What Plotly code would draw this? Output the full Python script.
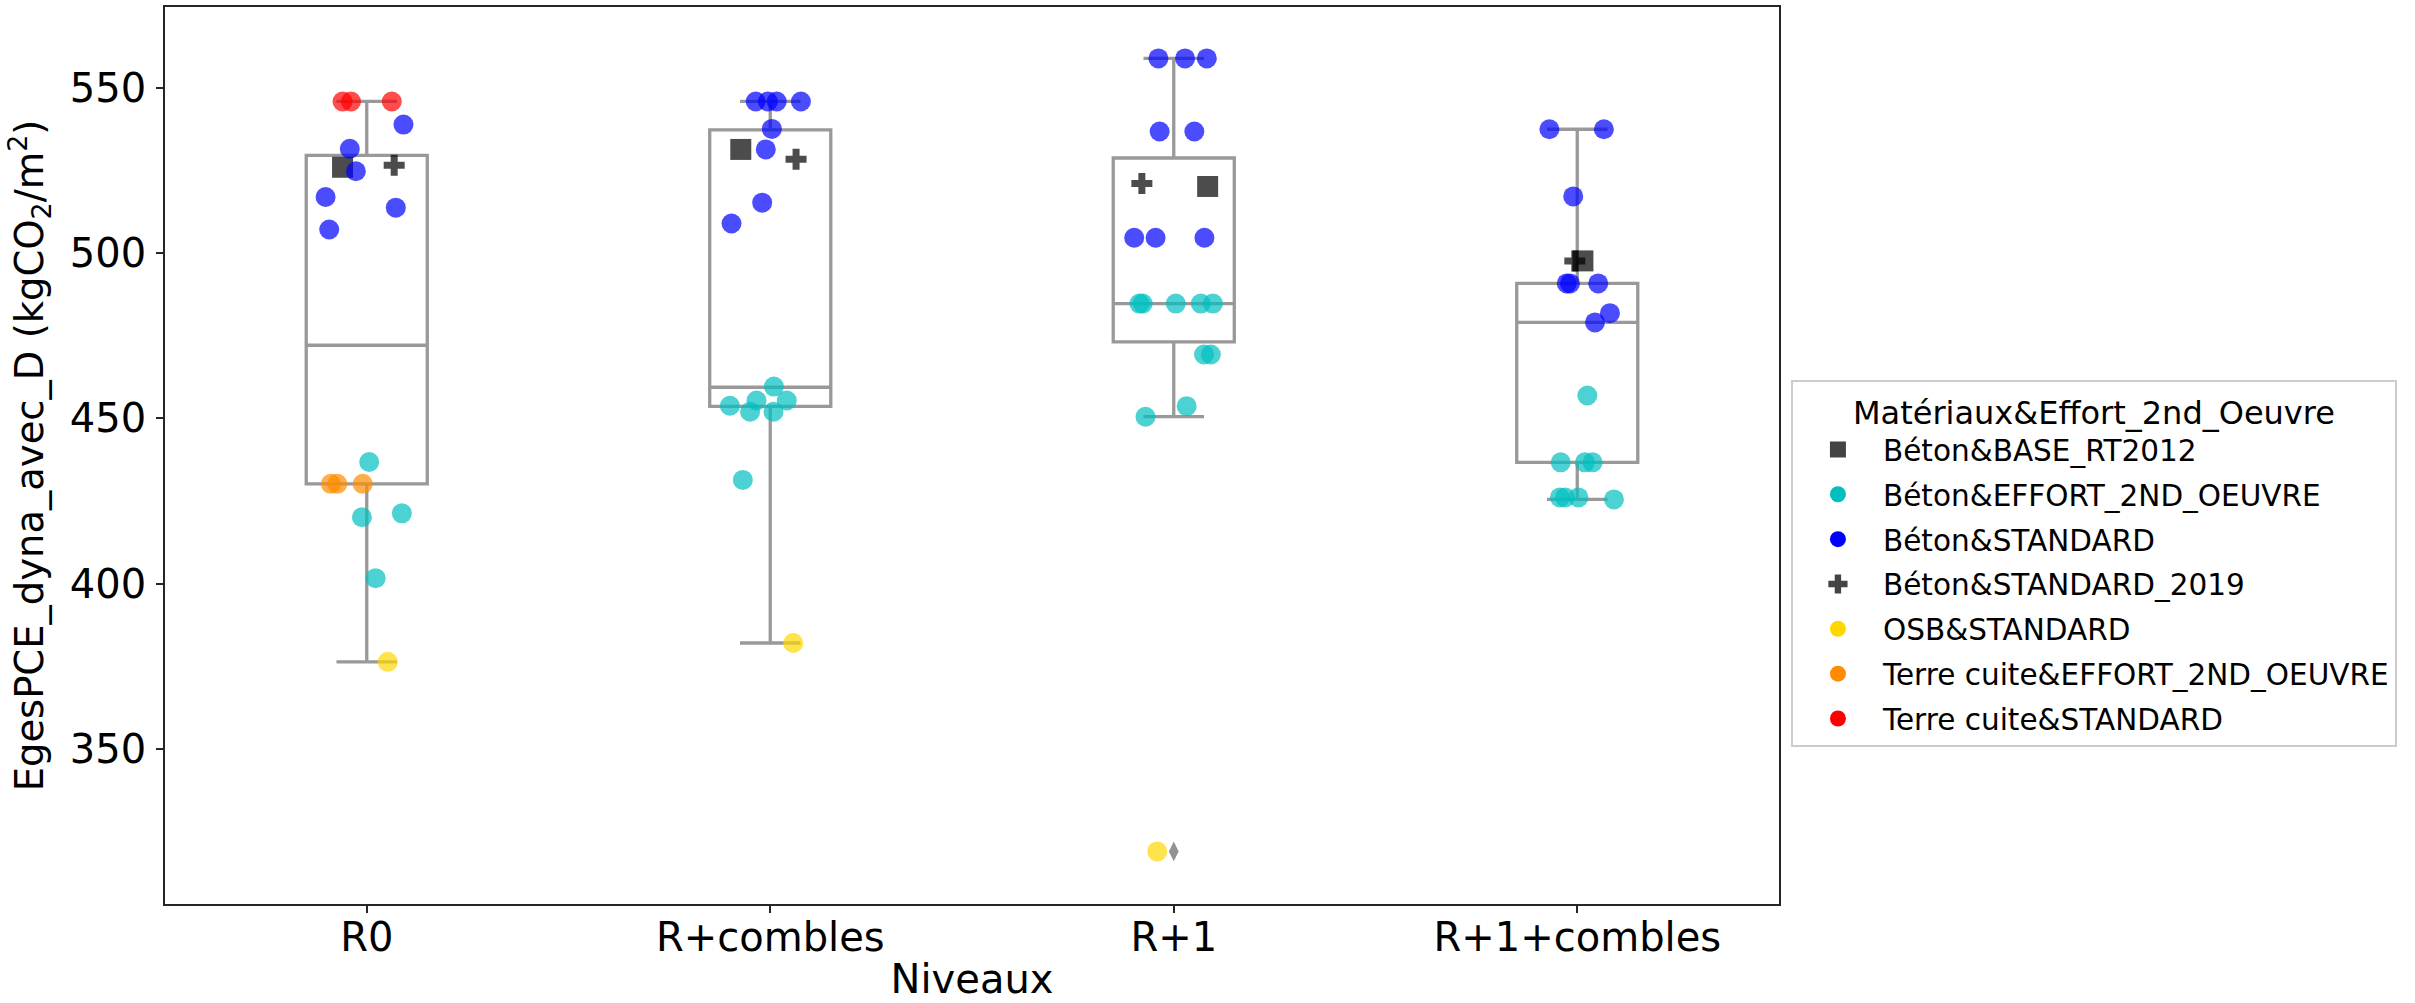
import plotly.graph_objects as go

# ---------------- data ----------------
levels = ["R0", "R+combles", "R+1", "R+1+combles"]

box_lowerfence = [376.4, 382.1, 450.5, 425.5]
box_q1 = [430.2, 453.6, 473.1, 436.7]
box_median = [472.1, 459.4, 484.7, 479.0]
box_q3 = [529.5, 537.2, 528.7, 490.8]
box_upperfence = [545.8, 545.8, 558.8, 537.4]

outlier_levels = ["R+1"]
outlier_values = [319.1]

# Béton&BASE_RT2012
base_levels = ["R0", "R+combles", "R+1", "R+1+combles"]
base_values = [525.9, 531.3, 520.1, 497.6]
base_jitter = [-0.060, -0.073, 0.084, 0.014]

# Béton&EFFORT_2ND_OEUVRE
effort_levels = ["R0"] * 4 + ["R+combles"] * 7 + ["R+1"] * 9 + ["R+1+combles"] * 8
effort_values = [436.8, 420.1, 421.3, 401.7,
                 459.6, 453.8, 455.4, 452.0, 452.0, 455.4, 431.4,
                 484.7, 484.7, 484.7, 484.7, 484.7, 469.3, 469.3, 453.7, 450.5,
                 456.9, 436.7, 436.7, 436.7, 426.1, 426.1, 426.1, 425.5]
effort_jitter = [0.006, -0.012, 0.087, 0.022,
                 0.009, -0.100, -0.034, -0.050, 0.008, 0.041, -0.068,
                 -0.085, -0.077, 0.005, 0.067, 0.097, 0.075, 0.092, 0.032, -0.070,
                 0.025, -0.041, 0.019, 0.038, -0.043, -0.030, 0.003, 0.091]

# Béton&STANDARD
standard_levels = ["R0"] * 6 + ["R+combles"] * 8 + ["R+1"] * 8 + ["R+1+combles"] * 8
standard_values = [538.8, 531.5, 524.7, 516.9, 513.7, 507.1,
                   545.8, 545.8, 545.8, 545.8, 537.5, 531.3, 515.2, 508.9,
                   558.8, 558.8, 558.8, 536.7, 536.7, 504.6, 504.6, 504.6,
                   537.4, 537.4, 517.1, 490.8, 490.8, 490.8, 481.8, 479.0]
standard_jitter = [0.091, -0.042, -0.027, -0.102, 0.072, -0.093,
                   -0.036, -0.006, 0.016, 0.076, 0.004, -0.011, -0.020, -0.096,
                   -0.038, 0.028, 0.082, -0.035, 0.051, -0.098, -0.045, 0.076,
                   -0.069, 0.066, -0.010, -0.026, -0.018, 0.052, 0.081, 0.044]

# Béton&STANDARD_2019
std2019_levels = ["R0", "R+combles", "R+1", "R+1+combles"]
std2019_values = [526.5, 528.3, 521.0, 497.6]
std2019_jitter = [0.068, 0.064, -0.079, -0.006]

# OSB&STANDARD
osb_levels = ["R0", "R+combles", "R+1"]
osb_values = [376.4, 382.1, 319.1]
osb_jitter = [0.052, 0.057, -0.041]

# Terre cuite&EFFORT_2ND_OEUVRE
tc_effort_levels = ["R0", "R0", "R0"]
tc_effort_values = [430.2, 430.2, 430.2]
tc_effort_jitter = [-0.089, -0.073, -0.010]

# Terre cuite&STANDARD
tc_standard_levels = ["R0", "R0", "R0"]
tc_standard_values = [545.8, 545.8, 545.8]
tc_standard_jitter = [-0.060, -0.039, 0.062]

series_names = ["Béton&BASE_RT2012", "Béton&EFFORT_2ND_OEUVRE", "Béton&STANDARD",
                "Béton&STANDARD_2019", "OSB&STANDARD",
                "Terre cuite&EFFORT_2ND_OEUVRE", "Terre cuite&STANDARD"]

# ---------------- styles ----------------
FONT = "DejaVu Sans"
series_style = {
    "Béton&BASE_RT2012": dict(color="#000000", legend_color="#444444", symbol="square", size=21),
    "Béton&EFFORT_2ND_OEUVRE": dict(color="#00BFBF", legend_color="#00BFBF", symbol="circle", size=20),
    "Béton&STANDARD": dict(color="#0000FF", legend_color="#0000FF", symbol="circle", size=20),
    "Béton&STANDARD_2019": dict(color="#000000", legend_color="#444444", symbol="cross", size=17.5),
    "OSB&STANDARD": dict(color="#FFD700", legend_color="#FFD700", symbol="circle", size=20),
    "Terre cuite&EFFORT_2ND_OEUVRE": dict(color="#FF8C00", legend_color="#FF8C00", symbol="circle", size=20),
    "Terre cuite&STANDARD": dict(color="#FF0000", legend_color="#FF0000", symbol="circle", size=20),
}
series_data = {
    "Béton&BASE_RT2012": (base_levels, base_values, base_jitter),
    "Béton&EFFORT_2ND_OEUVRE": (effort_levels, effort_values, effort_jitter),
    "Béton&STANDARD": (standard_levels, standard_values, standard_jitter),
    "Béton&STANDARD_2019": (std2019_levels, std2019_values, std2019_jitter),
    "OSB&STANDARD": (osb_levels, osb_values, osb_jitter),
    "Terre cuite&EFFORT_2ND_OEUVRE": (tc_effort_levels, tc_effort_values, tc_effort_jitter),
    "Terre cuite&STANDARD": (tc_standard_levels, tc_standard_values, tc_standard_jitter),
}

level_index = {lv: i for i, lv in enumerate(levels)}
BOX_GRAY = "#999999"

fig = go.Figure()

# boxes
fig.add_trace(go.Box(
    x=list(range(len(levels))),
    q1=box_q1, median=box_median, q3=box_q3,
    lowerfence=box_lowerfence, upperfence=box_upperfence,
    width=0.3, whiskerwidth=0.5,
    line=dict(color=BOX_GRAY, width=3.3),
    fillcolor="rgba(255,255,255,0)",
    boxpoints=False, showlegend=False, hoverinfo="skip",
))

# outlier (flier)
fig.add_trace(go.Scatter(
    x=[level_index[l] for l in outlier_levels], y=outlier_values,
    mode="markers",
    marker=dict(symbol="diamond-tall", size=14, color="#929292", line=dict(width=0)),
    showlegend=False, hoverinfo="skip",
))

# strip points
for name in series_names:
    lv, vals, jit = series_data[name]
    st = series_style[name]
    fig.add_trace(go.Scatter(
        x=[level_index[l] + j for l, j in zip(lv, jit)], y=vals,
        mode="markers", name=name, legendgroup=name, showlegend=False,
        marker=dict(symbol=st["symbol"], size=st["size"], color=st["color"],
                    opacity=0.7, line=dict(width=0)),
    ))
    # legend entry
    fig.add_trace(go.Scatter(
        x=[None], y=[None], mode="markers", name=name, legendgroup=name,
        marker=dict(symbol=st["symbol"], size=st["size"], color=st["legend_color"],
                    line=dict(width=0)),
    ))

axis_common = dict(
    showline=True, linecolor="#262626", linewidth=1.8, mirror=True,
    ticks="outside", ticklen=7, tickwidth=1.8, tickcolor="#262626",
    showgrid=False, zeroline=False,
    tickfont=dict(family=FONT, size=40, color="#000000"),
)

fig.update_layout(
    width=2415, height=1003,
    margin=dict(l=165, r=636, t=5, b=99),
    plot_bgcolor="#FFFFFF", paper_bgcolor="#FFFFFF",
    font=dict(family=FONT, color="#000000"),
    xaxis=dict(
        range=[-0.5, 3.5], tickmode="array",
        tickvals=list(range(len(levels))), ticktext=levels,
        ticklabelstandoff=-10,
        title=dict(text="Niveaux", font=dict(family=FONT, size=40), standoff=6),
        **axis_common,
    ),
    yaxis=dict(
        range=[303.2, 574.35], tickmode="array",
        tickvals=[350, 400, 450, 500, 550],
        ticklabelstandoff=2,
        title=dict(text="EgesPCE_dyna_avec_D (kgCO<sub>2</sub>/m<sup>2</sup>)",
                   font=dict(family=FONT, size=38.5), standoff=14),
        **axis_common,
    ),
    legend=dict(
        x=1.0074, y=0.584, xanchor="left", yanchor="top",
        bgcolor="#FFFFFF", bordercolor="#CCCCCC", borderwidth=2,
        font=dict(family=FONT, size=29.5, color="#000000"),
        title=dict(text="Matériaux&Effort_2nd_Oeuvre", side="top center",
                   font=dict(family=FONT, size=32, color="#000000")),
        itemwidth=80, traceorder="grouped", tracegroupgap=3.5,
    ),
)

fig.write_html("out.html", config={"displayModeBar": False},
               post_script="document.body.style.margin='0px';")
